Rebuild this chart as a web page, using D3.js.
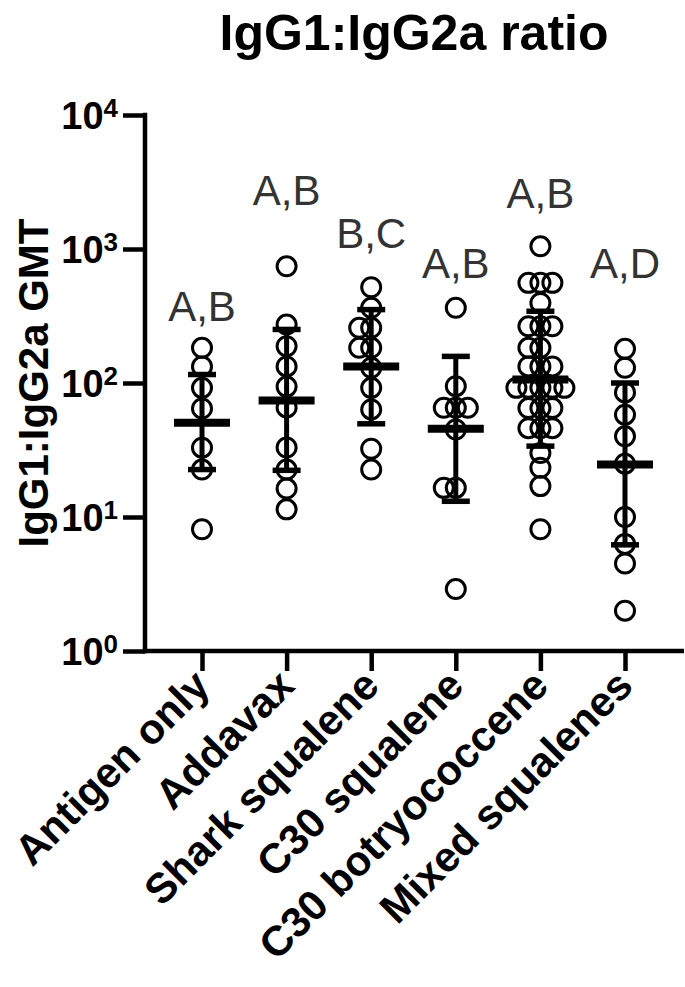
<!DOCTYPE html>
<html>
<head>
<meta charset="utf-8">
<script src="https://cdn.jsdelivr.net/npm/d3@7"></script>
<style>
  body { margin: 0; background: #fff; }
  svg { display: block; font-family: "Liberation Sans", Arial, sans-serif; }
</style>
</head>
<body>
<script>
// groups on the x axis
var groups = ["Antigen only", "Addavax", "Shark squalene", "C30 squalene", "C30 botryococcene", "Mixed squalenes"];

// individual IgG1:IgG2a ratios per group
var antigenOnly = [183, 133, 92, 64.5, 32.9, 22.6, 8.1];
var addavax = [743, 273, 188, 133, 94, 65.7, 33, 22.6, 16.3, 11.4];
var sharkSqualene = [518, 364, 258, 258, 183, 183, 130, 92, 63.5, 32.3, 22.6];
var c30Squalene = [364, 94.7, 65.3, 65.3, 65.3, 45, 16.5, 16.5, 2.9];
var c30Botryococcene = [1047, 559, 559, 559, 396, 265, 265, 265, 183, 183, 133, 133, 133,
	92, 92, 92, 92, 92, 65, 65, 65, 46, 46, 46, 30, 23.3, 17, 8.1];
var mixedSqualenes = [180, 130, 85, 58, 40, 25, 10, 6.3, 4.5, 2];

// geometric mean and error bar ends
var gmt = [50.5, 74, 133, 45.5, 106, 24.7];
var errLow = [22.6, 22.3, 49.6, 13.1, 33.8, 6.2];
var errHigh = [115.7, 251, 353, 158, 343, 100];

// significance letters and the level they were placed at (data units)
var letters = ["A,B", "A,B", "B,C", "A,B", "A,B", "A,D"];
var letterLevel = [288, 2140, 1024, 612, 2040, 612];

var yTicks = [1, 10, 100, 1000, 10000];
var yTickExp = ["0", "1", "2", "3", "4"];

var points = [antigenOnly, addavax, sharkSqualene, c30Squalene, c30Botryococcene, mixedSqualenes];

var width = 685, height = 987;
var axisX = 145, axisBottom = 651, axisTop = 115, axisRight = 684;
var r = 9.5;

var svg = d3.select('body').append('svg')
	.attr('width', width)
	.attr('height', height)
	.style('background-color', '#fff');

var yScale = d3.scaleLog()
	.domain([1, 10000])
	.range([axisBottom, axisTop]);

var xScale = d3.scalePoint()
	.domain(groups)
	.range([202, 625]);

// title
svg.append('text')
	.attr('x', 414)
	.attr('y', 50)
	.attr('text-anchor', 'middle')
	.style('font-size', '50px')
	.style('font-weight', 'bold')
	.text('IgG1:IgG2a ratio');

// y axis title
svg.append('text')
	.attr('transform', 'translate(48,' + ((axisTop + axisBottom) / 2) + ') rotate(-90)')
	.attr('text-anchor', 'middle')
	.style('font-size', '42px')
	.style('font-weight', 'bold')
	.text('IgG1:IgG2a GMT');

// y axis
var yAxis = d3.axisLeft(yScale)
	.tickValues(yTicks)
	.tickSize(22)
	.tickSizeOuter(0)
	.tickFormat('');

var gy = svg.append('g')
	.attr('transform', 'translate(' + axisX + ',0)')
	.call(yAxis);
gy.select('.domain').remove();
gy.selectAll('line').attr('stroke', '#000').attr('stroke-width', 4.5);

svg.append('line')
	.attr('x1', axisX).attr('x2', axisX)
	.attr('y1', axisTop - 2.25).attr('y2', axisBottom + 2.25)
	.attr('stroke', '#000').attr('stroke-width', 4.5);

// tick labels with superscript exponent
var tl = svg.selectAll('.ylab')
	.data(yTicks)
	.enter().append('text')
	.attr('class', 'ylab')
	.attr('x', 118)
	.attr('y', function(d){ return yScale(d) + 14 })
	.attr('text-anchor', 'end')
	.style('font-weight', 'bold');
tl.append('tspan')
	.style('font-size', '38px')
	.text('10');
tl.append('tspan')
	.attr('dy', -12)
	.style('font-size', '26px')
	.text(function(d, i){ return yTickExp[i] });

// x axis
var xAxis = d3.axisBottom(xScale)
	.tickSize(20)
	.tickSizeOuter(0)
	.tickFormat('');

var gx = svg.append('g')
	.attr('transform', 'translate(0,' + axisBottom + ')')
	.call(xAxis);
gx.select('.domain').remove();
gx.selectAll('line').attr('stroke', '#000').attr('stroke-width', 4.5);

svg.append('line')
	.attr('x1', axisX - 2.25).attr('x2', axisRight)
	.attr('y1', axisBottom).attr('y2', axisBottom)
	.attr('stroke', '#000').attr('stroke-width', 4.5);

// rotated category labels
svg.selectAll('.xlab')
	.data(groups)
	.enter().append('text')
	.attr('class', 'xlab')
	.attr('transform', function(d){ return 'translate(' + (xScale(d) + 10) + ',' + 688 + ') rotate(-45)' })
	.attr('text-anchor', 'end')
	.style('font-size', '42px')
	.style('font-weight', 'bold')
	.text(function(d){ return d });

// simple swarm so tied values spread sideways
function swarm(vals, cx){
	var placed = [];
	var step = 12, minDist = 11;
	vals.slice().sort(function(a, b){ return b - a }).forEach(function(v){
		var y = yScale(v);
		for (var k = 0; k < 40; k++){
			var off = (k === 0) ? 0 : (k % 2 ? -1 : 1) * Math.ceil(k / 2) * step;
			var ok = placed.every(function(p){
				return Math.hypot(p.x - (cx + off), p.y - y) >= minDist;
			});
			if (ok){ placed.push({x: cx + off, y: y}); break; }
		}
	});
	return placed;
}

var plot = svg.append('g');

groups.forEach(function(g, i){
	var cx = xScale(g);
	var pts = swarm(points[i], cx);

	plot.append('g').selectAll('circle')
		.data(pts)
		.enter().append('circle')
		.attr('cx', function(d){ return d.x })
		.attr('cy', function(d){ return d.y })
		.attr('r', r)
		.attr('fill', 'none')
		.attr('stroke', '#000')
		.attr('stroke-width', 3);

	// error bar
	plot.append('line')
		.attr('x1', cx).attr('x2', cx)
		.attr('y1', yScale(errLow[i])).attr('y2', yScale(errHigh[i]))
		.attr('stroke', '#000').attr('stroke-width', 5);
	[errLow[i], errHigh[i]].forEach(function(v){
		plot.append('line')
			.attr('x1', cx - 14).attr('x2', cx + 14)
			.attr('y1', yScale(v)).attr('y2', yScale(v))
			.attr('stroke', '#000').attr('stroke-width', 5.5);
	});
	// geometric mean
	plot.append('line')
		.attr('x1', cx - 28).attr('x2', cx + 28)
		.attr('y1', yScale(gmt[i])).attr('y2', yScale(gmt[i]))
		.attr('stroke', '#000').attr('stroke-width', 8);

	// letters
	svg.append('text')
		.attr('x', cx)
		.attr('y', yScale(letterLevel[i]))
		.attr('text-anchor', 'middle')
		.style('font-size', '42px')
		.style('fill', '#333')
		.text(letters[i]);
});
</script>
</body>
</html>
